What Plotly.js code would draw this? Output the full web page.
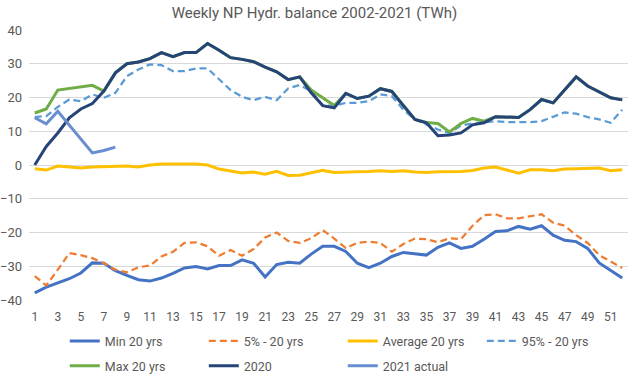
<!DOCTYPE html>
<html>
<head>
<meta charset="utf-8">
<script src="https://cdn.plot.ly/plotly-3.0.1.min.js"></script>
<style>html,body{margin:0;padding:0;background:#fff;}#chart{width:629px;height:375px;}</style>
</head>
<body>
<div id="chart"></div>
<script>
const weeks = [1,2,3,4,5,6,7,8,9,10,11,12,13,14,15,16,17,18,19,20,21,22,23,24,25,26,27,28,29,30,31,32,33,34,35,36,37,38,39,40,41,42,43,44,45,46,47,48,49,50,51,52];
const weeks2021 = [1,2,3,4,5,6,7,8];

const min20 = [-37.9,-36.2,-34.9,-33.7,-32.0,-29.0,-29.1,-31.3,-32.7,-34.0,
  -34.4,-33.5,-32.1,-30.5,-30.1,-30.8,-29.8,-29.8,-28.1,-29.1,
  -33.2,-29.5,-28.8,-29.1,-26.4,-24.1,-24.1,-25.6,-29.1,-30.4,
  -29.1,-27.1,-25.9,-26.4,-26.7,-24.4,-23.1,-24.7,-24.1,-22.0,
  -19.7,-19.5,-18.2,-19.0,-18.0,-20.8,-22.3,-22.7,-24.7,-29.0,
  -31.3,-33.5];
const p5 = [-32.9,-35.7,-31.0,-26.1,-26.7,-27.6,-29.1,-31.0,-31.8,-30.3,
  -29.8,-27.1,-25.7,-23.1,-22.9,-24.1,-26.9,-25.2,-26.9,-24.9,
  -21.5,-20.0,-22.5,-23.1,-21.7,-19.3,-21.8,-24.6,-23.1,-22.7,
  -23.1,-25.7,-23.4,-21.8,-22.0,-22.9,-21.7,-22.0,-18.0,-14.9,
  -14.6,-15.8,-15.8,-15.1,-14.6,-17.1,-18.0,-20.8,-23.1,-26.7,
  -28.6,-30.5];
const avg20 = [-1.1,-1.5,-0.3,-0.7,-0.9,-0.6,-0.5,-0.3,-0.3,-0.6,
  0.0,0.3,0.3,0.3,0.3,0.0,-1.2,-1.8,-2.4,-2.1,
  -2.7,-1.9,-3.1,-3.0,-2.3,-1.6,-2.2,-2.0,-2.0,-1.9,
  -1.7,-1.9,-1.7,-2.1,-2.2,-2.0,-2.0,-1.9,-1.6,-0.9,
  -0.6,-1.6,-2.4,-1.4,-1.4,-1.7,-1.2,-1.1,-0.9,-0.9,
  -1.7,-1.4];
const p95 = [14.2,14.5,17.2,19.4,18.9,20.9,19.9,21.4,26.3,28.3,
  29.8,29.6,27.8,27.8,28.6,28.6,25.4,22.2,20.2,19.2,
  20.2,19.2,22.7,23.7,21.9,17.6,17.6,18.4,18.4,18.9,
  20.9,20.4,16.4,13.5,12.0,10.5,9.5,11.7,12.3,12.7,
  13.0,12.7,12.7,12.7,13.0,14.3,15.6,15.2,14.2,13.5,
  12.5,16.4];
const max20 = [15.4,16.6,22.2,22.7,23.2,23.6,21.9,27.3,30.0,30.5,
  31.5,33.3,32.1,33.3,33.3,36.0,34.0,31.8,31.3,30.6,
  29.0,27.6,25.3,26.1,22.2,19.9,17.6,21.2,19.7,20.4,
  22.6,21.8,17.6,13.5,12.6,12.3,9.8,12.3,13.8,13.0,
  14.3,14.3,14.1,16.4,19.4,18.4,22.4,26.1,23.4,21.6,
  19.9,19.3];
const y2020 = [0.0,5.5,9.5,14.0,16.6,18.2,21.9,27.3,30.0,30.5,
  31.5,33.3,32.1,33.3,33.3,36.0,34.0,31.8,31.3,30.6,
  29.0,27.6,25.3,26.1,21.4,17.6,16.9,21.2,19.7,20.4,
  22.6,21.8,17.6,13.5,12.5,8.7,8.9,9.5,11.9,12.5,
  14.3,14.3,14.1,16.4,19.4,18.4,22.4,26.1,23.4,21.6,
  19.9,19.3];
const y2021 = [14.0,12.2,15.9,11.7,7.5,3.6,4.3,5.3];

const tickVals = [1,3,5,7,9,11,13,15,17,19,21,23,25,27,29,31,33,35,37,39,41,43,45,47,49,51];
const yTicks = [-40,-30,-20,-10,0,10,20,30,40];

function tr(name, x, y, color, width, dash, lg) {
  return {type:'scatter', mode:'lines', name:name, x:x, y:y, legend:lg,
    line:{color:color, width:width, dash:dash||'solid'}, hoverinfo:'skip'};
}

const data = [
  tr('Min 20 yrs', weeks, min20, '#4472C4', 3, null, 'legend'),
  tr('5% - 20 yrs', weeks, p5, '#ED7D31', 2.25, '7px,4px', 'legend'),
  tr('Average 20 yrs', weeks, avg20, '#FFC000', 3, null, 'legend'),
  tr('95% - 20 yrs', weeks, p95, '#5B9BD5', 2.25, '7px,4px', 'legend'),
  tr('Max 20 yrs', weeks, max20, '#70AD47', 3, null, 'legend2'),
  tr('2020', weeks, y2020, '#264478', 3, null, 'legend2'),
  tr('2021 actual', weeks2021, y2021, '#698ED0', 3, null, 'legend2')
];

const legendBase = {orientation:'h', xref:'container', yref:'container', x:0.103, xanchor:'left', yanchor:'top',
  entrywidth:94, entrywidthmode:'pixels', font:{size:12.5, color:'#595959'}, traceorder:'normal', bgcolor:'rgba(0,0,0,0)'};

const layout = {
  width:629, height:375,
  margin:{l:29, r:1, t:30, b:75},
  paper_bgcolor:'#fff', plot_bgcolor:'#fff',
  font:{family:'Roboto, sans-serif', size:12, color:'#595959'},
  title:{text:'Weekly NP Hydr. balance 2002-2021 (TWh)', x:0.5, xanchor:'center', y:0.965, yanchor:'middle',
    font:{family:'Roboto, sans-serif', size:15, color:'#595959'}},
  xaxis:{range:[0.5,52.5], tickmode:'array', tickvals:tickVals, ticktext:tickVals.map(String),
    showgrid:false, zeroline:false, showline:false, ticks:'', ticklabelstandoff:8,
    tickfont:{size:12, color:'#595959'}},
  yaxis:{range:[-40,40], tickmode:'array', tickvals:yTicks, showgrid:true, gridcolor:'#d9d9d9', gridwidth:1,
    zeroline:false, showline:false, ticks:'', ticklabelstandoff:6,
    tickfont:{size:13, color:'#595959'}},
  showlegend:true,
  legend:Object.assign({}, legendBase, {y:0.13}),
  legend2:Object.assign({}, legendBase, {y:0.064})
};

Plotly.newPlot('chart', data, layout, {staticPlot:true, displayModeBar:false});
</script>
</body>
</html>
